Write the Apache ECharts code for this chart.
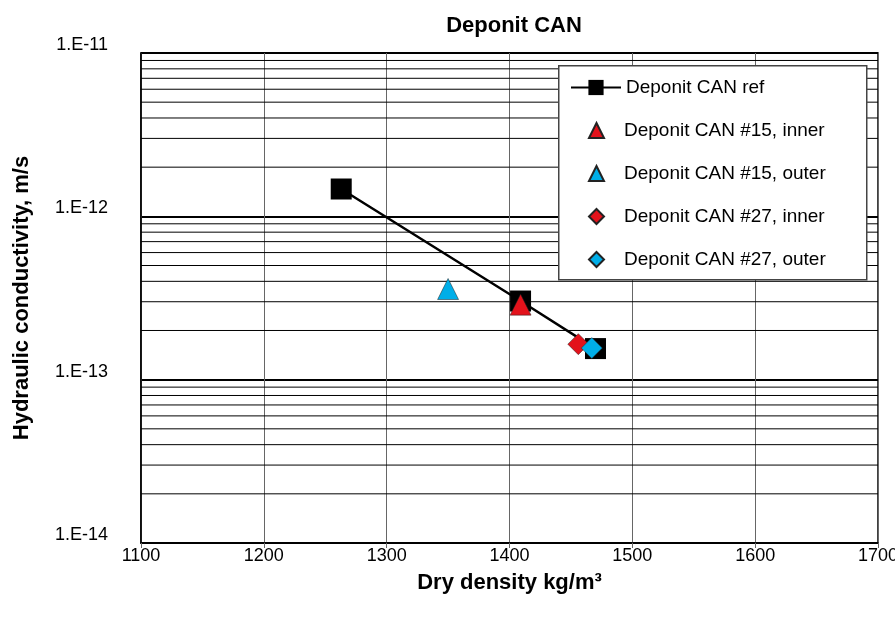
<!DOCTYPE html>
<html>
<head>
<meta charset="utf-8">
<script src="https://cdn.jsdelivr.net/npm/echarts@6/dist/echarts.min.js"></script>
<style>
html,body{margin:0;padding:0;background:#fff;}
#chart{width:895px;height:629px;}
</style>
</head>
<body>
<div id="chart"></div>
<script>
// ---- data ----
const titleText = 'Deponit CAN';
const xName = 'Dry density kg/m\u00b3';
const yName = 'Hydraulic conductivity, m/s';
const seriesNames = ['Deponit CAN ref', 'Deponit CAN #15, inner', 'Deponit CAN #15, outer', 'Deponit CAN #27, inner', 'Deponit CAN #27, outer'];
const refX = [1263, 1409, 1470];
const refY = [1.47e-12, 3.03e-13, 1.55e-13];
const in15X = [1409];
const in15Y = [2.88e-13];
const out15X = [1350];
const out15Y = [3.59e-13];
const in27X = [1456];
const in27Y = [1.65e-13];
const out27X = [1467];
const out27Y = [1.56e-13];
const xMin = 1100, xMax = 1700, xStep = 100;
const yMinExp = -14, yMaxExp = -11;

// minor grid values (2..9 x 10^n) for the log axis
const minorVals = [];
for (let e = yMinExp; e < yMaxExp; e++) {
  for (let m = 2; m <= 9; m++) minorVals.push(m * Math.pow(10, e));
}

const pairs = (xs, ys) => xs.map((x, i) => [x, ys[i]]);
const RED = '#e3121b';
const CYAN = '#00aee8';
const FONT = '"Liberation Sans", Arial, sans-serif';
const LEG_FS = 19;

const chart = echarts.init(document.getElementById('chart'));
chart.setOption({
  animation: false,
  backgroundColor: '#fff',
  title: {
    text: titleText, left: 509, textAlign: 'center', top: 10,
    textStyle: { fontFamily: FONT, fontSize: 22, fontWeight: 'bold', color: '#000' }
  },
  grid: {
    left: 141, right: 17, top: 53, bottom: 86, containLabel: false, outerBoundsMode: 'none',
    show: true, borderColor: '#000', borderWidth: 1.5, backgroundColor: 'transparent'
  },
  graphic: [{
    type: 'rect', left: 558, top: 65, z: 10,
    shape: { width: 308, height: 214 },
    style: { fill: '#fff', stroke: '#444', lineWidth: 1.5 }
  }],
  legend: [
    {
      data: [seriesNames[0]],
      orient: 'vertical', left: 570, top: 78, padding: 0,
      itemWidth: 50, itemHeight: 19, z: 20,
      textStyle: { fontFamily: FONT, fontSize: LEG_FS, color: '#000', lineHeight: 19 }
    },
    {
      data: seriesNames.slice(1),
      orient: 'vertical', left: 588, top: 121, padding: 0,
      itemGap: 24, itemWidth: 15, itemHeight: 15, z: 20,
      textStyle: { fontFamily: FONT, fontSize: LEG_FS, color: '#000', lineHeight: 19, padding: [0, 0, 0, 15] }
    }
  ],
  xAxis: {
    type: 'value', min: xMin, max: xMax, interval: xStep,
    name: xName, nameLocation: 'middle', nameGap: 29,
    nameTextStyle: { fontFamily: FONT, fontSize: 22, fontWeight: 'bold', color: '#000' },
    axisLine: { show: true, lineStyle: { color: '#000', width: 1.5 } },
    axisTick: { show: true, inside: false, length: 5, lineStyle: { color: '#666' } },
    axisLabel: { fontFamily: FONT, fontSize: 18, color: '#000', margin: 4, formatter: v => String(v) },
    splitLine: { show: true, lineStyle: { color: '#666', width: 1 } }
  },
  yAxis: {
    type: 'log', logBase: 10, min: Math.pow(10, yMinExp), max: Math.pow(10, yMaxExp),
    name: yName, nameLocation: 'middle', nameGap: 108,
    nameTextStyle: { fontFamily: FONT, fontSize: 22, fontWeight: 'bold', color: '#000' },
    axisLine: { show: true, lineStyle: { color: '#000', width: 1.5 } },
    axisTick: { show: false },
    axisLabel: {
      fontFamily: FONT, fontSize: 18, color: '#000', margin: 33, verticalAlign: 'bottom', lineHeight: 16,
      formatter: v => '1.E' + Math.round(Math.log10(v))
    },
    splitLine: { show: true, lineStyle: { color: '#000', width: 2 } }
  },
  series: [
    {
      name: '_minor', type: 'custom', z: 1, silent: true,
      data: minorVals.map(v => [v]),
      encode: { y: 0 },
      renderItem: function (params, api) {
        const v = api.value(0);
        const p1 = api.coord([xMin, v]);
        const p2 = api.coord([xMax, v]);
        return {
          type: 'line',
          shape: { x1: p1[0], y1: p1[1], x2: p2[0], y2: p2[1] },
          style: { stroke: '#000', lineWidth: 1 }
        };
      }
    },
    {
      name: seriesNames[0], type: 'line', data: pairs(refX, refY), z: 3,
      symbol: 'rect', symbolSize: 21,
      lineStyle: { color: '#000', width: 2.5 },
      itemStyle: { color: '#000' }
    },
    {
      name: seriesNames[1], type: 'scatter', data: pairs(in15X, in15Y), z: 4,
      symbol: 'triangle', symbolSize: 21,
      itemStyle: { color: RED, borderColor: '#222', borderWidth: 0.5, opacity: 1 }
    },
    {
      name: seriesNames[2], type: 'scatter', data: pairs(out15X, out15Y), z: 4,
      symbol: 'triangle', symbolSize: 21,
      itemStyle: { color: CYAN, borderColor: '#222', borderWidth: 0.5, opacity: 1 }
    },
    {
      name: seriesNames[3], type: 'scatter', data: pairs(in27X, in27Y), z: 4,
      symbol: 'diamond', symbolSize: 21,
      itemStyle: { color: RED, borderColor: '#222', borderWidth: 0.5, opacity: 1 }
    },
    {
      name: seriesNames[4], type: 'scatter', data: pairs(out27X, out27Y), z: 4,
      symbol: 'diamond', symbolSize: 21,
      itemStyle: { color: CYAN, borderColor: '#222', borderWidth: 0.5, opacity: 1 }
    }
  ]
});
</script>
</body>
</html>
